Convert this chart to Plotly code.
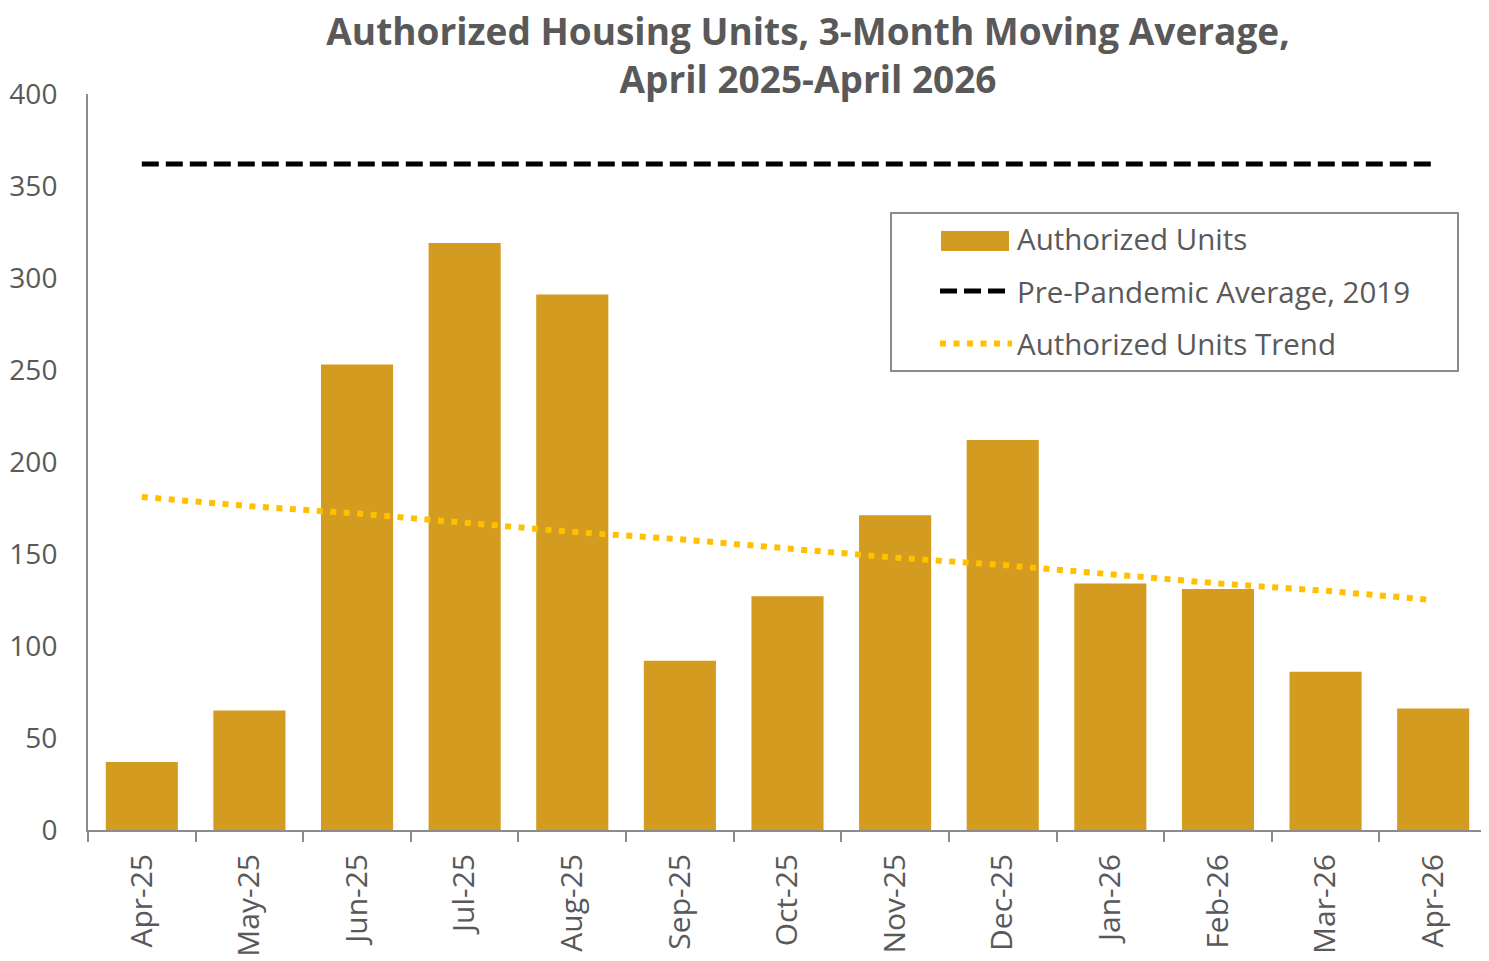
import plotly.graph_objects as go

months = ["Apr-25", "May-25", "Jun-25", "Jul-25", "Aug-25", "Sep-25", "Oct-25",
          "Nov-25", "Dec-25", "Jan-26", "Feb-26", "Mar-26", "Apr-26"]
authorized_units = [37, 65, 253, 319, 291, 92, 127, 171, 212, 134, 131, 86, 66]
pre_pandemic_avg = [362, 362, 362, 362, 362, 362, 362, 362, 362, 362, 362, 362, 362]
trend = [181, 176, 172, 167, 162, 158, 153, 148, 144, 139, 134, 130, 125]
y_ticks = [0, 50, 100, 150, 200, 250, 300, 350, 400]

FONT = "Open Sans"
GRAY = "#595959"
AXIS = "#8c8c8c"
BAR = "#D39B1F"

fig = go.Figure()
fig.add_trace(go.Bar(x=months, y=authorized_units, name="Authorized Units",
                     marker=dict(color=BAR, line=dict(width=0)),
                     showlegend=False, legendgroup="a"))
# legend entry for the bars (its swatch is drawn as a shape below)
fig.add_trace(go.Scatter(x=[months[0]], y=[None], mode="lines",
                         name="Authorized Units", legendgroup="a",
                         line=dict(color="rgba(0,0,0,0)", width=1), hoverinfo="skip"))
fig.add_trace(go.Scatter(x=months, y=pre_pandemic_avg, mode="lines",
                         name="Pre-Pandemic Average, 2019", legendgroup="b",
                         line=dict(color="#000000", width=5, dash="17px,7px")))
fig.add_trace(go.Scatter(x=months, y=trend, mode="lines",
                         name="Authorized Units Trend", legendgroup="c",
                         line=dict(color="#FFC000", width=6, dash="6px,7.5px")))

W, H = 1481, 953
PX = lambda v: (v - 88) / 1399      # page pixel -> paper x
PY = lambda v: (830 - v) / 736      # page pixel -> paper y

fig.update_layout(
    width=W, height=H,
    paper_bgcolor="white", plot_bgcolor="white",
    margin=dict(l=80, r=2, t=86, b=131, autoexpand=False),
    bargap=0.33,
    font=dict(family=FONT, color=GRAY, size=29),
    title=dict(
        text="<b>Authorized Housing Units, 3-Month Moving Average,<br>April 2025-April 2026</b>",
        x=800 / W, xanchor="center", y=1 - 37 / H, yanchor="middle",
        font=dict(family=FONT, size=37, color=GRAY),
    ),
    showlegend=True,
    legend=dict(
        x=PX(935), y=PY(213), xanchor="left", yanchor="top",
        bgcolor="rgba(0,0,0,0)", borderwidth=0,
        font=dict(family=FONT, size=29.5, color=GRAY),
        itemwidth=72, tracegroupgap=11,
        traceorder="grouped",
    ),
    shapes=[
        dict(type="rect", xref="paper", yref="paper",
             x0=PX(891), x1=PX(1458), y0=PY(371), y1=PY(213),
             line=dict(color=AXIS, width=2), fillcolor="rgba(0,0,0,0)",
             layer="above"),
        dict(type="rect", xref="paper", yref="paper",
             x0=PX(941), x1=PX(1009), y0=PY(251), y1=PY(231),
             line=dict(width=0), fillcolor=BAR, layer="above"),
    ],
)
fig.update_xaxes(
    type="category", showgrid=False, showline=True, linecolor=AXIS, linewidth=2,
    ticks="outside", tickson="boundaries", ticklen=10, tickwidth=2, tickcolor=AXIS,
    tickangle=-90, tickfont=dict(family=FONT, size=30, color=GRAY),
    ticklabelstandoff=10, zeroline=False,
)
fig.update_yaxes(
    range=[0, 400], tickvals=y_ticks, showgrid=False, showline=True,
    linecolor=AXIS, linewidth=2, ticks="", zeroline=False,
    tickfont=dict(family=FONT, size=28, color=GRAY), ticklabelstandoff=23,
)

fig.write_html("out.html")
